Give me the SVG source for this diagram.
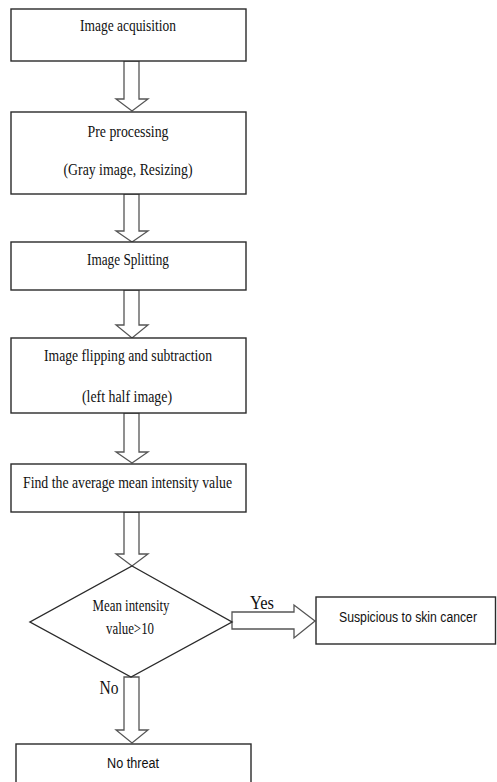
<svg xmlns="http://www.w3.org/2000/svg" width="497" height="782" viewBox="0 0 497 782">
<style>
.box{fill:#fff;stroke:#2a2a2a;stroke-width:1.4}
.arr{fill:#fff;stroke:#555;stroke-width:1.3;stroke-linejoin:miter}
.t{font-family:"Liberation Serif","Times New Roman",serif;font-size:16px;fill:#111;text-anchor:middle}
.s{font-family:"Liberation Sans",Arial,sans-serif;font-size:14px;fill:#111;text-anchor:middle}
.l{font-family:"Liberation Serif","Times New Roman",serif;font-size:19px;fill:#111;text-anchor:middle}
</style>
<rect width="497" height="782" fill="#fff"/>
<g id="connectors">
<polygon class="arr" points="124,61 139,61 139,99 148,99 132,111 116,99 124,99"/>
<polygon class="arr" points="124,194 139,194 139,231 148,231 132,242 116,231 124,231"/>
<polygon class="arr" points="124,290 139,290 139,325 148,325 132,338 116,325 124,325"/>
<polygon class="arr" points="124,413 139,413 139,452 148,452 132,463 116,452 124,452"/>
<polygon class="arr" points="124,512 139,512 139,554 148,554 132,566 116,554 124,554"/>
<polygon class="arr" points="232,612 294,612 294,605 315,621 294,638 294,629 232,629"/>
<polygon class="arr" points="124,677 139,677 139,730 148,730 132,743 116,730 124,730"/>
<text class="l" x="262" y="609" textLength="24" lengthAdjust="spacingAndGlyphs">Yes</text>
<text class="l" x="109" y="694" textLength="19" lengthAdjust="spacingAndGlyphs">No</text>
</g>
<g id="n1">
<rect class="box" x="11" y="9" width="235" height="52"/>
<text class="t" x="128" y="31" textLength="96" lengthAdjust="spacingAndGlyphs">Image acquisition</text>
</g>
<g id="n2">
<rect class="box" x="11" y="112" width="235" height="82"/>
<text class="t" x="128" y="137" textLength="81" lengthAdjust="spacingAndGlyphs">Pre processing</text>
<text class="t" x="128" y="175" textLength="129" lengthAdjust="spacingAndGlyphs">(Gray image, Resizing)</text>
</g>
<g id="n3">
<rect class="box" x="11" y="242" width="235" height="48"/>
<text class="t" x="128" y="265" textLength="82" lengthAdjust="spacingAndGlyphs">Image Splitting</text>
</g>
<g id="n4">
<rect class="box" x="11" y="338" width="235" height="75"/>
<text class="t" x="128" y="361" textLength="168" lengthAdjust="spacingAndGlyphs">Image flipping and subtraction</text>
<text class="t" x="127" y="402" textLength="90" lengthAdjust="spacingAndGlyphs">(left half image)</text>
</g>
<g id="n5">
<rect class="box" x="11" y="464" width="235" height="48"/>
<text class="t" x="127.5" y="488" textLength="209" lengthAdjust="spacingAndGlyphs">Find the average mean intensity value</text>
</g>
<g id="n6">
<polygon class="box" points="132,566 232,622 131,677 30,622"/>
<text class="t" x="131" y="611" font-size="14" textLength="77" lengthAdjust="spacingAndGlyphs">Mean intensity</text>
<text class="t" x="130" y="634" font-size="14" textLength="48" lengthAdjust="spacingAndGlyphs">value&gt;10</text>
</g>
<g id="n7">
<rect class="box" x="316" y="597" width="179.5" height="47"/>
<text class="s" x="408" y="622" textLength="138" lengthAdjust="spacingAndGlyphs">Suspicious to skin cancer</text>
</g>
<g id="n8">
<rect class="box" x="16" y="744" width="235" height="50"/>
<text class="s" x="133" y="768" textLength="52" lengthAdjust="spacingAndGlyphs">No threat</text>
</g>
</svg>
